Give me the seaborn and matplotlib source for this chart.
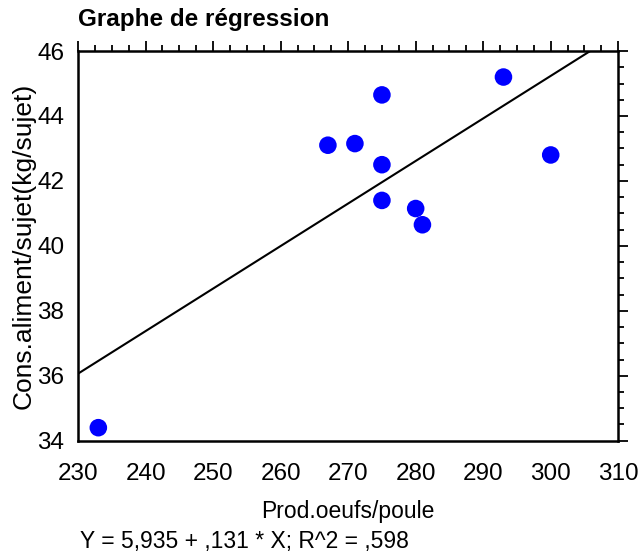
import numpy as np
import pandas as pd
import matplotlib
matplotlib.use('Agg')
import matplotlib.pyplot as plt
import seaborn as sns
from matplotlib.ticker import MultipleLocator

# valeurs
prod_oeufs = [233, 267, 271, 275, 275, 275, 280, 281, 293, 300]
cons_aliment = [34.4, 43.1, 43.15, 44.65, 42.5, 41.4, 41.15, 40.65, 45.2, 42.8]
intercept = 5.935
pente = 0.131
r2 = 0.598

data = pd.DataFrame({'Prod.oeufs/poule': prod_oeufs,
                     'Cons.aliment/sujet(kg/sujet)': cons_aliment})

sns.set_style('white')
plt.rcParams['font.family'] = ['Liberation Sans', 'DejaVu Sans']
plt.rcParams['text.color'] = 'black'
plt.rcParams['axes.labelcolor'] = 'black'
plt.rcParams['xtick.color'] = 'black'
plt.rcParams['ytick.color'] = 'black'

fig = plt.figure(figsize=(6.4, 5.55), dpi=100)
ax = fig.add_axes([0.122, 0.206, 0.844, 0.702])

sns.scatterplot(data=data, x='Prod.oeufs/poule', y='Cons.aliment/sujet(kg/sujet)',
                color='#0000ff', s=160, edgecolor='none', ax=ax, zorder=3)

# droite de régression
xs = np.array([230, 310])
sns.lineplot(x=xs, y=intercept + pente * xs, color='black', lw=1.5, ax=ax)

ax.set_xlim(230, 310)
ax.set_ylim(34, 46)
ax.xaxis.set_major_locator(MultipleLocator(10))
ax.xaxis.set_minor_locator(MultipleLocator(2.5))
ax.yaxis.set_major_locator(MultipleLocator(2))
ax.yaxis.set_minor_locator(MultipleLocator(0.5))
ax.tick_params(which='both', direction='out', top=True, right=True,
               labeltop=False, labelright=False, width=1.3, color='black')
ax.tick_params(which='major', length=7, labelsize=17.5)
ax.tick_params(axis='x', which='major', pad=9)
ax.tick_params(axis='y', which='major', pad=3)
ax.tick_params(which='minor', length=4)
for s in ax.spines.values():
    s.set_linewidth(1.8)
    s.set_color('black')

ax.set_xlabel('Prod.oeufs/poule', fontsize=16.5, labelpad=11)
ax.set_ylabel('Cons.aliment/sujet(kg/sujet)', fontsize=19, labelpad=1)
ax.set_title('Graphe de régression', loc='left', fontsize=17.5, fontweight='bold', pad=18)

eq = 'Y = 5,935 + ,131 * X; R^2 = ,598'
fig.text(0.125, 0.004, eq, fontsize=16.5, ha='left', va='bottom')

fig.savefig('out.png', dpi=100)
